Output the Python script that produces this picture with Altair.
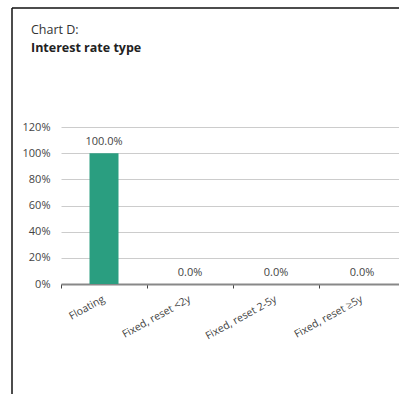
import altair as alt
import pandas as pd

categories = ["Floating", "Fixed, reset <2y", "Fixed, reset 2-5y", "Fixed, reset \u22655y"]
shares = [1.0, 0.0, 0.0, 0.0]
y_ticks = [0, 0.2, 0.4, 0.6, 0.8, 1.0, 1.2]

df = pd.DataFrame({"cat": categories, "share": shares})

FONT = "Open Sans"

x_enc = alt.X(
    "cat:N",
    sort=categories,
    title=None,
    scale=alt.Scale(range=[0, 344], paddingInner=0, paddingOuter=0),
    axis=alt.Axis(
        bandPosition=0,
        labelAngle=-29,
        labelAlign="right",
        labelBaseline="middle",
        labelPadding=10,
        labelFont=FONT,
        labelFontSize=10.5,
        labelColor="#444444",
        labelOverlap=False,
        domainColor="#888888",
        domainWidth=2,
        tickColor="#444444",
        tickSize=4,
        tickWidth=1,
        grid=False,
    ),
)

y_enc = alt.Y(
    "share:Q",
    title=None,
    scale=alt.Scale(domain=[0, 1.2], nice=False),
    axis=alt.Axis(
        values=y_ticks,
        format=".0%",
        domain=False,
        ticks=False,
        labelOverlap=False,
        labelPadding=11,
        labelFont=FONT,
        labelFontSize=11,
        labelColor="#444444",
        gridColor="#cccccc",
        gridWidth=1,
    ),
)

base = alt.Chart(df)

bars = base.mark_bar(size=29, color="#2a9e80").encode(x=x_enc, y=y_enc)

labels = base.mark_text(
    dy=-11, font=FONT, fontSize=11, color="#444444", baseline="middle"
).encode(
    x=x_enc,
    y=y_enc,
    text=alt.Text("share:Q", format=".1%"),
)

frame_df = pd.DataFrame({"a": [0]})
left_line = alt.Chart(frame_df).mark_rule(color="#111111", strokeWidth=1.5).encode(
    x=alt.value(-49), y=alt.value(-119), y2=alt.value(280)
)
top_line = alt.Chart(frame_df).mark_rule(color="#111111", strokeWidth=1.5).encode(
    x=alt.value(-49), x2=alt.value(345), y=alt.value(-119)
)

chart = alt.layer(bars, labels, left_line, top_line).properties(
    width=338,
    height=157,
    autosize=alt.AutoSizeParams(type="none"),
    padding={"left": 61, "top": 127, "right": 0, "bottom": 110},
    title=alt.TitleParams(
        text="Chart D:",
        subtitle="Interest rate type",
        anchor="start",
        frame="group",
        dx=-30,
        offset=-47,
        font=FONT,
        fontSize=12.5,
        fontWeight="normal",
        color="#333333",
        subtitleFont=FONT,
        subtitleFontSize=12.5,
        subtitleFontWeight="bold",
        subtitleColor="#222222",
        subtitlePadding=5,
    ),
).configure_view(stroke=None)

chart.save("out.html", embed_options={"renderer": "svg", "actions": False})
